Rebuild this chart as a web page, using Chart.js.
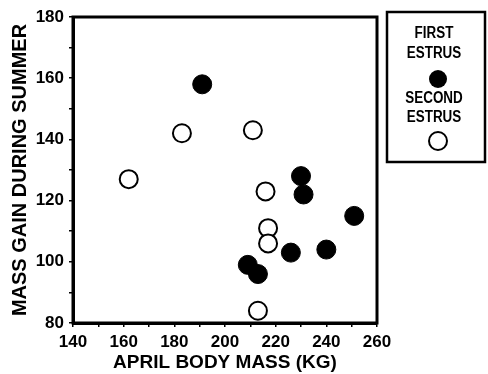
<!DOCTYPE html>
<html>
<head>
<meta charset="utf-8">
<script src="https://cdn.jsdelivr.net/npm/chart.js@4"></script>
<style>
  html, body { margin: 0; padding: 0; background: #fff; }
  #wrap { width: 488px; height: 374px; }
</style>
</head>
<body>
<div id="wrap"><canvas id="myChart"></canvas></div>
<script>
// April body mass (kg) vs mass gain during summer
var firstX = [191, 230, 231, 251, 240, 226, 209, 213];
var firstY = [158, 128, 122, 115, 104, 103, 99, 96];
var secondX = [183, 211, 162, 216, 217, 217, 213];
var secondY = [142, 143, 127, 123, 111, 106, 84];

var xTicks = [140, 160, 180, 200, 220, 240, 260];
var yTicks = [80, 100, 120, 140, 160, 180];

var firstPts = firstX.map(function(x, i){ return {x: x, y: firstY[i]}; });
var secondPts = secondX.map(function(x, i){ return {x: x, y: secondY[i]}; });

var FONT = "'Liberation Sans', Arial, sans-serif";

// frame around plot + the boxed legend on the right
var framePlugin = {
  id: 'frame',
  afterDraw: function(chart) {
    var ctx = chart.ctx;
    var a = chart.chartArea;
    ctx.save();
    ctx.strokeStyle = '#000';
    ctx.lineWidth = 3;
    ctx.strokeRect(a.left, a.top, a.right - a.left, a.bottom - a.top);

    // legend box
    ctx.lineWidth = 2.5;
    ctx.strokeRect(387, 12, 98, 150);
    ctx.fillStyle = '#000';
    ctx.font = 'bold 16px ' + FONT;
    ctx.textAlign = 'center';
    ctx.textBaseline = 'middle';
    // squeeze the legend text a bit, it's condensed in the original
    ctx.save();
    ctx.translate(434, 0);
    ctx.scale(0.84, 1);
    ctx.fillText('FIRST', 0, 34);
    ctx.fillText('ESTRUS', 0, 54);
    ctx.fillText('SECOND', 0, 99);
    ctx.fillText('ESTRUS', 0, 118);
    ctx.restore();

    ctx.beginPath();
    ctx.arc(438, 79, 9, 0, Math.PI * 2);
    ctx.fill();
    ctx.beginPath();
    ctx.fillStyle = '#fff';
    ctx.lineWidth = 2;
    ctx.arc(438, 141, 9, 0, Math.PI * 2);
    ctx.fill();
    ctx.stroke();
    ctx.restore();
  }
};

var ctx = document.getElementById('myChart');

new Chart(ctx, {
  type: 'scatter',
  data: {
    datasets: [
      {
        label: 'FIRST ESTRUS',
        data: firstPts,
        pointRadius: 9.5,
        pointBackgroundColor: '#000',
        pointBorderColor: '#000',
        pointBorderWidth: 1
      },
      {
        label: 'SECOND ESTRUS',
        data: secondPts,
        pointRadius: 9,
        pointBackgroundColor: '#fff',
        pointBorderColor: '#000',
        pointBorderWidth: 2
      }
    ]
  },
  options: {
    responsive: true,
    maintainAspectRatio: false,
    animation: false,
    clip: false,
    layout: { padding: { top: 17, right: 111, bottom: 0, left: 8 } },
    plugins: {
      legend: { display: false },
      tooltip: { enabled: false }
    },
    scales: {
      x: {
        type: 'linear',
        min: 140,
        max: 260,
        afterFit: function(s){ s.height = 51; },
        afterBuildTicks: function(s){ s.ticks = [140,150,160,170,180,190,200,210,220,230,240,250,260].map(function(v){ return {value: v}; }); },
        ticks: {
          color: '#000',
          padding: 5,
          maxRotation: 0,
          minRotation: 0,
          autoSkip: false,
          font: { family: FONT, size: 17, weight: 'bold' },
          callback: function(v){ return xTicks.indexOf(v) >= 0 ? String(v) : ''; }
        },
        grid: { drawOnChartArea: false, drawTicks: true, tickLength: 4, color: '#000', lineWidth: 1.5 },
        border: { display: true, color: '#000', width: 3 },
        title: {
          display: true,
          text: 'APRIL BODY MASS (KG)',
          color: '#000',
          padding: { top: 0, bottom: 0 },
          font: { family: FONT, size: 19, weight: 'bold' }
        }
      },
      y: {
        type: 'linear',
        min: 80,
        max: 180,
        afterFit: function(s){ s.width = 65; },
        afterBuildTicks: function(s){ s.ticks = [80,90,100,110,120,130,140,150,160,170,180].map(function(v){ return {value: v}; }); },
        ticks: {
          color: '#000',
          padding: 5,
          autoSkip: false,
          font: { family: FONT, size: 17, weight: 'bold' },
          callback: function(v){ return yTicks.indexOf(v) >= 0 ? String(v) : ''; }
        },
        grid: { drawOnChartArea: false, drawTicks: true, tickLength: 4, color: '#000', lineWidth: 1.5 },
        border: { display: true, color: '#000', width: 3 },
        title: {
          display: true,
          text: 'MASS GAIN DURING SUMMER',
          color: '#000',
          padding: { top: 0, bottom: 2 },
          font: { family: FONT, size: 20, weight: 'bold' }
        }
      }
    }
  },
  plugins: [framePlugin]
});
</script>
</body>
</html>
